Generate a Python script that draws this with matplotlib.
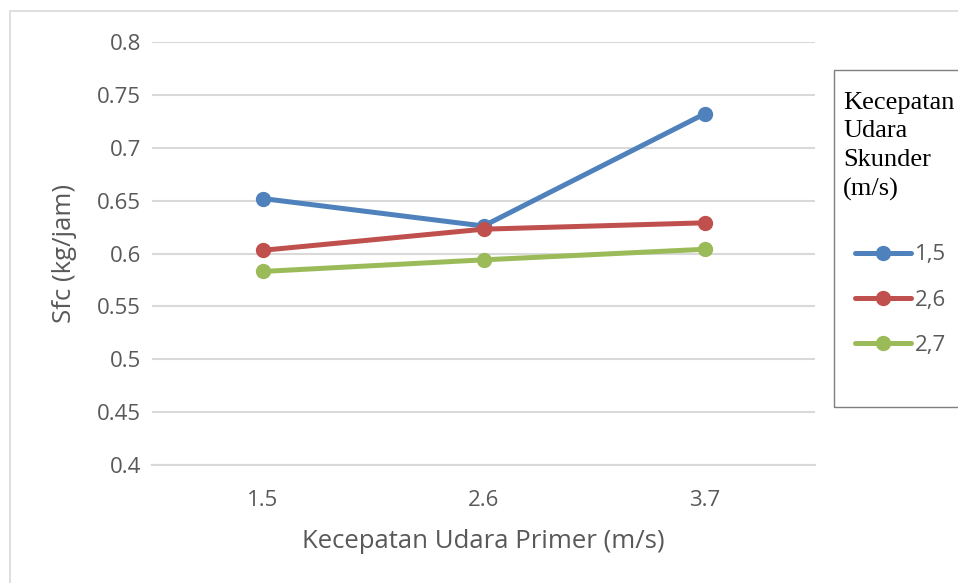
import matplotlib.pyplot as plt
from matplotlib.patches import Rectangle

# data
primer = ["1.5", "2.6", "3.7"]
skunder = ["1,5", "2,6", "2,7"]
sfc_15 = [0.652, 0.626, 0.732]
sfc_26 = [0.603, 0.623, 0.629]
sfc_27 = [0.583, 0.594, 0.604]
yticks = [0.4, 0.45, 0.5, 0.55, 0.6, 0.65, 0.7, 0.75, 0.8]
ytick_labels = ["0.4", "0.45", "0.5", "0.55", "0.6", "0.65", "0.7", "0.75", "0.8"]

colors = ["#4f81bd", "#c0504d", "#9bbb59"]
text_color = "#595959"
grid_color = "#d9d9d9"

plt.rcParams['font.family'] = ['Open Sans', 'DejaVu Sans']

W, H = 958, 583
fig = plt.figure(figsize=(W / 100, H / 100), dpi=100)

# outer chart border (runs off the right and bottom edges)
fig.patches.append(Rectangle((10 / W, -0.1), 2, 1 - 11 / H + 0.1,
                             transform=fig.transFigure, fill=False,
                             edgecolor=grid_color, lw=1.2))
# legend border
fig.patches.append(Rectangle((834 / W, 1 - 407 / H), 0.5, (407 - 70) / H,
                             transform=fig.transFigure, fill=False,
                             edgecolor="#7f7f7f", lw=1.0))

ax = fig.add_axes([152 / W, 1 - 465 / H, 663 / W, 423 / H])
x = list(range(len(primer)))
for vals, lab, c in zip([sfc_15, sfc_26, sfc_27], skunder, colors):
    ax.plot(x, vals, color=c, lw=3.6, marker="o", markersize=10,
            solid_capstyle="round", label=lab)

ax.set_xlim(-0.5, 2.5)
ax.set_ylim(0.4, 0.8)
ax.set_yticks(yticks)
ax.set_yticklabels(ytick_labels)
ax.set_xticks(x)
ax.set_xticklabels(primer)
ax.tick_params(length=0, colors=text_color, labelsize=16)
ax.tick_params(axis="y", pad=8)
ax.tick_params(axis="x", pad=18)
ax.grid(axis="y", color=grid_color, lw=1.5)
ax.set_axisbelow(True)
for s in ["top", "right", "left"]:
    ax.spines[s].set_visible(False)
ax.spines["bottom"].set_color(grid_color)
ax.spines["bottom"].set_linewidth(1.5)

ax.set_xlabel("Kecepatan Udara Primer (m/s)", color=text_color, fontsize=18.5,
              labelpad=13)
ax.set_ylabel("Sfc (kg/jam)", color=text_color, fontsize=18.5, labelpad=14)

# legend title, left aligned in serif
fig.text(843 / W, 1 - 92 / H, "Kecepatan\nUdara\nSkunder\n(m/s)",
         family="Liberation Serif", fontsize=19, va="top", ha="left",
         linespacing=1.38, color="black")

leg = fig.legend(loc="center left", bbox_to_anchor=(855 / W, 1 - 300 / H),
                 frameon=False, fontsize=16, handlelength=2.5,
                 handletextpad=0.2, labelspacing=1.09, borderaxespad=0,
                 borderpad=0)
for t in leg.get_texts():
    t.set_color(text_color)

fig.savefig("out.png", dpi=100)
